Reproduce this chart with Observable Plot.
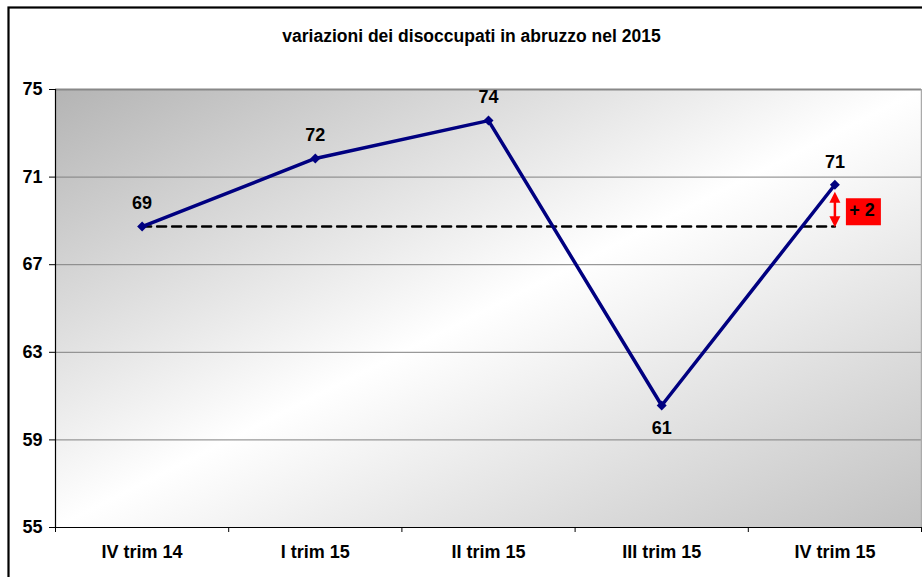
<!DOCTYPE html>
<html><head><meta charset="utf-8">
<script src="https://cdn.jsdelivr.net/npm/d3@7"></script>
<script src="https://cdn.jsdelivr.net/npm/@observablehq/plot@0.6"></script>
<style>
html,body{margin:0;padding:0;background:#fff;overflow:hidden}
</style></head><body><div id="chart"></div>
<script>
const title = "variazioni dei disoccupati in abruzzo nel 2015";
const categories = ["IV trim 14", "I trim 15", "II trim 15", "III trim 15", "IV trim 15"];
const values = [68.74, 71.85, 73.58, 60.57, 70.65];
const labels = ["69", "72", "74", "61", "71"];
const yTicks = [55, 59, 63, 67, 71, 75];

const data = categories.map((c, i) => ({
  pos: i + 0.5, cat: c, v: values[i], label: labels[i],
  low: i > 0 && i < values.length - 1 && values[i] < values[i - 1] && values[i] < values[i + 1]
}));
const first = data[0], last = data[data.length - 1];
const diff = last.v - first.v;
const refLine = [{pos: first.pos, v: first.v}, {pos: last.pos, v: first.v}];
const delta = [{pos: last.pos, base: first.v, top: last.v, mid: (first.v + last.v) / 2, text: "+ " + Math.round(diff)}];

const head = {draw(ctx) { ctx.moveTo(0, -5.5); ctx.lineTo(5.5, 5.5); ctx.lineTo(-5.5, 5.5); ctx.closePath(); }};
const box = {draw(ctx) { ctx.rect(-17.5, -13.5, 35, 27); }};
const diamond = {draw(ctx) { ctx.moveTo(0, -5); ctx.lineTo(5, 0); ctx.lineTo(0, 5); ctx.lineTo(-5, 0); ctx.closePath(); }};

const svg = Plot.plot({
  width: 922, height: 577,
  marginLeft: 55, marginRight: 1, marginTop: 89, marginBottom: 50,
  style: {fontFamily: "'Liberation Sans', Arial, sans-serif", fontSize: "18px", fontWeight: "bold", color: "#000", background: "transparent"},
  x: {domain: [0, categories.length], axis: null},
  y: {domain: [55, 75], axis: null},
  marks: [
    Plot.frame({fill: "url(#bg)", stroke: null}),
    Plot.ruleY(yTicks.filter(t => t > 55 && t < 75), {stroke: "#808080", strokeWidth: 1}),
    Plot.ruleY([75], {stroke: "#888", strokeWidth: 2}),
    Plot.ruleX([categories.length], {stroke: "#aaa", strokeWidth: 1.5}),
    Plot.ruleY([55], {stroke: "#000", strokeWidth: 1.2}),
    Plot.ruleX([0], {stroke: "#000", strokeWidth: 1.2}),
    Plot.axisY({ticks: yTicks, tickSize: 6, tickPadding: 7, fontSize: 18, fontWeight: "bold", stroke: "#000", label: null}),
    Plot.axisX({ticks: d3.range(categories.length + 1), tickSize: 5, tickFormat: () => "", stroke: "#000", label: null}),
    Plot.axisX({ticks: data.map(d => d.pos), tickSize: 0, tickPadding: 18, fontSize: 18, fontWeight: "bold", label: null, tickFormat: p => categories[Math.floor(p)]}),
    Plot.line(refLine, {x: "pos", y: "v", stroke: "#000", strokeWidth: 2.5, strokeDasharray: "9,6"}),
    Plot.line(data, {x: "pos", y: "v", stroke: "#000080", strokeWidth: 3.5}),
    Plot.dot(data, {x: "pos", y: "v", symbol: diamond, fill: "#000080", stroke: "none"}),
    Plot.text(data.filter(d => !d.low), {x: "pos", y: "v", text: "label", dy: -23, fill: "#000", fontSize: 18, fontWeight: "bold"}),
    Plot.text(data.filter(d => d.low), {x: "pos", y: "v", text: "label", dy: 23, fill: "#000", fontSize: 18, fontWeight: "bold"}),
    Plot.ruleX(delta, {x: "pos", y1: "top", y2: "base", stroke: "red", strokeWidth: 2.5, insetTop: 12, insetBottom: 5}),
    Plot.dot(delta, {x: "pos", y: "top", symbol: head, fill: "red", stroke: "none", r: 5, dy: 12.4}),
    Plot.dot(delta, {x: "pos", y: "base", symbol: head, fill: "red", stroke: "none", r: 5, rotate: 180, dy: -4.8}),
    Plot.dot(delta, {x: "pos", y: "mid", symbol: box, fill: "red", stroke: "none", dx: 28.5, dy: 6}),
    Plot.text(delta, {x: "pos", y: "mid", text: "text", dx: 27, dy: 5, fill: "#000", fontSize: 18, fontWeight: "bold"}),
    Plot.text([title], {frameAnchor: "top", lineAnchor: "middle", dx: -17, dy: -53, fill: "#000", fontSize: 17.5, fontWeight: "bold"})
  ]
});

const defs = d3.select(svg).insert("defs", ":first-child");
const g = defs.append("linearGradient").attr("id", "bg").attr("x1", 0).attr("y1", 0).attr("x2", 1).attr("y2", 1);
g.append("stop").attr("offset", 0).attr("stop-color", "#b4b4b4");
g.append("stop").attr("offset", 0.5).attr("stop-color", "#ffffff");
g.append("stop").attr("offset", 1).attr("stop-color", "#c2c2c2");
d3.select(svg).append("rect").attr("x", 8.5).attr("y", 7.5).attr("width", 2000).attr("height", 2000)
  .attr("fill", "none").attr("stroke", "#000").attr("stroke-width", 2.2);

document.getElementById("chart").appendChild(svg);
</script></body></html>
